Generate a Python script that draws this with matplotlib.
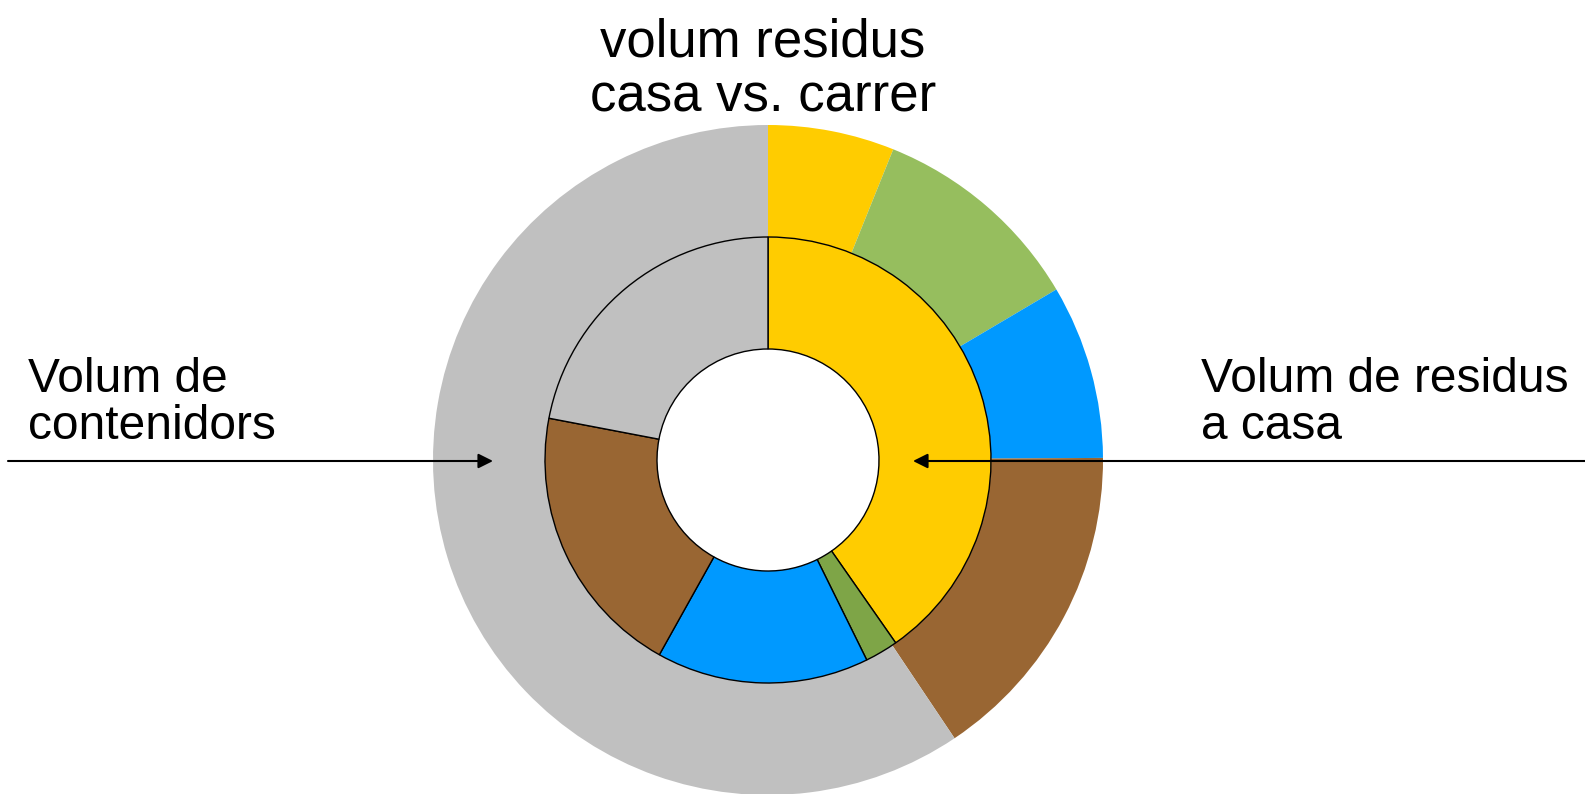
import matplotlib.pyplot as plt

plt.rcParams['font.family'] = ['Liberation Sans', 'DejaVu Sans']

# ring data (percent), clockwise from 12 o'clock
categories = ['groc', 'verd', 'blau', 'marro', 'gris']
outer_values = [6.1, 10.4, 8.4, 15.7, 59.4]   # volum de contenidors
inner_values = [40.3, 2.4, 15.4, 19.9, 22.0]  # volum de residus a casa
outer_colors = ['#FFCC00', '#96BE5E', '#0099FF', '#996633', '#C0C0C0']
inner_colors = ['#FFCC00', '#7EA547', '#0099FF', '#996633', '#C0C0C0']

title_text = "volum residus\ncasa vs. carrer"
left_label = "Volum de\ncontenidors"
right_label = "Volum de residus\na casa"

W, H = 1585, 794
fig = plt.figure(figsize=(W / 100, H / 100), dpi=100)
ax = fig.add_axes([0, 0, 1, 1])

cx, cy = 768, H - 460
r_out = 335
r_mid = 223
r_in = 111

ax.pie(outer_values, colors=outer_colors, startangle=90, counterclock=False,
       center=(cx, cy), radius=r_out, frame=True,
       wedgeprops=dict(width=r_out - r_mid, linewidth=0))
ax.pie(inner_values, colors=inner_colors, startangle=90, counterclock=False,
       center=(cx, cy), radius=r_mid, frame=True,
       wedgeprops=dict(width=r_mid - r_in, edgecolor='black', linewidth=1.0))
ax.set_xlim(0, W)
ax.set_ylim(0, H)
ax.set_aspect('equal')
ax.axis('off')

ax.text(763, H - 70, title_text, ha='center', va='center', fontsize=38,
        linespacing=1.12)
ax.text(28, H - 403, left_label, ha='left', va='center', fontsize=34.5,
        linespacing=1.06)
ax.text(1201, H - 403, right_label, ha='left', va='center', fontsize=34.5,
        linespacing=1.06)

ax.annotate('', xy=(493, H - 461), xytext=(8, H - 461),
            arrowprops=dict(arrowstyle='-|>', color='black', lw=1.5,
                            mutation_scale=22, shrinkA=0, shrinkB=0))
ax.annotate('', xy=(913, H - 461), xytext=(W, H - 461),
            arrowprops=dict(arrowstyle='-|>', color='black', lw=1.5,
                            mutation_scale=22, shrinkA=0, shrinkB=0))

fig.savefig('out.png', dpi=100)
